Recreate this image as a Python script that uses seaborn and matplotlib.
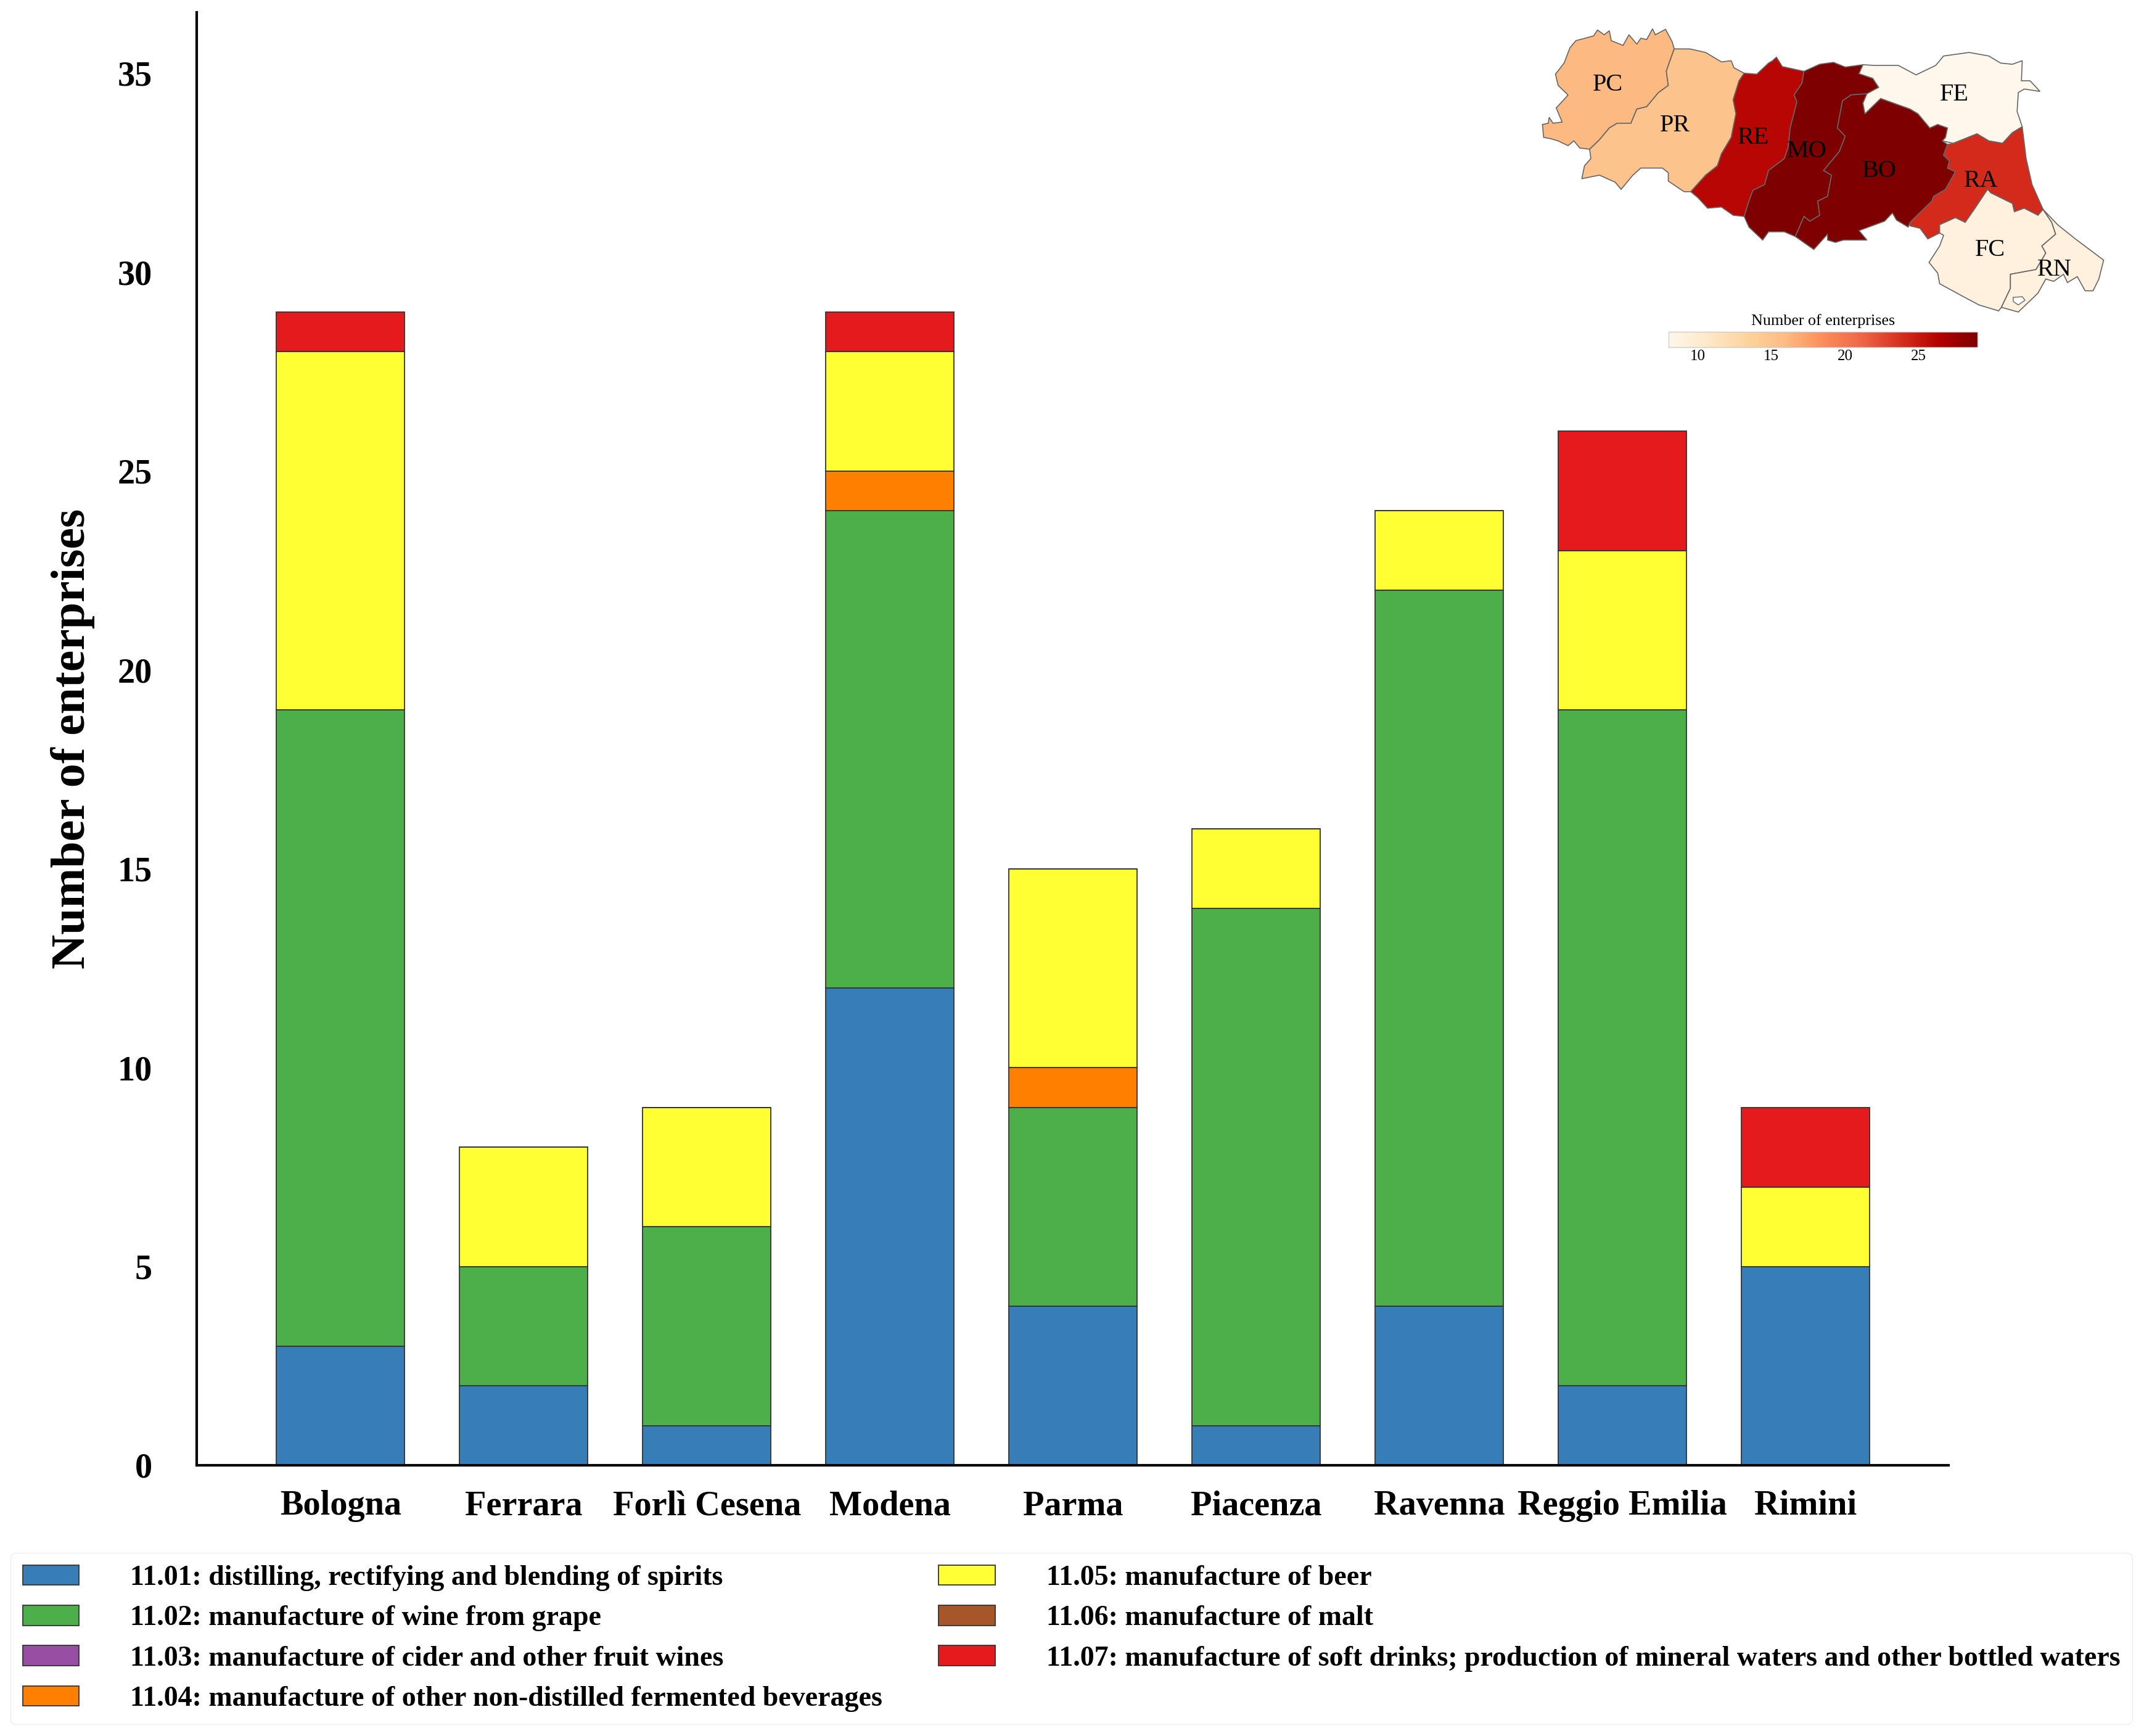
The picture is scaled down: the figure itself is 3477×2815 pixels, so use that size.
import numpy as np
import pandas as pd
import seaborn as sns
import matplotlib
matplotlib.use("Agg")
import matplotlib.pyplot as plt
from matplotlib.cm import ScalarMappable
from matplotlib.colors import Normalize

provinces = ["Bologna", "Ferrara", "Forlì Cesena", "Modena", "Parma", "Piacenza", "Ravenna", "Reggio Emilia", "Rimini"]
s1101 = [3, 2, 1, 12, 4, 1, 4, 2, 5]
s1102 = [16, 3, 5, 12, 5, 13, 18, 17, 0]
s1103 = [0, 0, 0, 0, 0, 0, 0, 0, 0]
s1104 = [0, 0, 0, 1, 1, 0, 0, 0, 0]
s1105 = [9, 3, 3, 3, 5, 2, 2, 4, 2]
s1106 = [0, 0, 0, 0, 0, 0, 0, 0, 0]
s1107 = [1, 0, 0, 1, 0, 0, 0, 3, 2]
series_labels = [
    "11.01: distilling, rectifying and blending of spirits",
    "11.02: manufacture of wine from grape",
    "11.03: manufacture of cider and other fruit wines",
    "11.04: manufacture of other non-distilled fermented beverages",
    "11.05: manufacture of beer",
    "11.06: manufacture of malt",
    "11.07: manufacture of soft drinks; production of mineral waters and other bottled waters",
]
series_colors = ["#377eb8", "#4daf4a", "#984ea3", "#ff7f00", "#ffff33", "#a65628", "#e41a1c"]

# Province outlines
PC = [(65,475),(80,470),(82,445),(92,470),(115,465),(100,405),(125,360),(130,350),(105,310),(98,262),(120,215),(135,150),(150,120),(195,100),(205,75),(222,95),(235,78),(240,120),(270,140),(285,95),(305,135),(315,110),(330,115),(345,70),(352,95),(378,72),(395,125),(400,155),(385,225),(380,250),(385,310),(360,340),(330,400),(305,410),(290,470),(255,470),(235,490),(210,540),(185,580),(160,575),(145,545),(130,565),(105,545),(85,535),(68,530)]
PR = [(400,155),(440,155),(480,170),(520,210),(545,205),(552,235),(578,258),(565,290),(550,370),(557,430),(545,530),(520,600),(510,650),(480,690),(442,760),(425,760),(385,715),(385,680),(370,660),(315,660),(295,690),(265,750),(250,720),(210,690),(165,705),(172,650),(188,620),(185,580),(210,540),(235,490),(255,470),(290,470),(305,410),(330,400),(360,340),(385,310),(380,250),(385,225)]
RE = [(578,258),(610,262),(640,215),(650,205),(660,190),(675,230),(730,250),(725,300),(705,350),(712,380),(695,490),(690,570),(680,620),(640,670),(630,730),(600,755),(590,800),(578,865),(550,860),(520,825),(485,830),(460,785),(442,760),(480,690),(510,650),(520,600),(545,530),(557,430),(550,370),(565,290)]
MO = [(730,250),(770,220),(805,212),(835,232),(880,222),(870,260),(905,280),(920,318),(890,345),(850,350),(828,375),(815,490),(835,525),(820,590),(780,670),(800,690),(790,780),(765,800),(770,860),(745,885),(730,865),(708,950),(680,930),(640,930),(625,965),(590,910),(578,865),(590,800),(600,755),(630,730),(640,670),(680,620),(690,570),(695,490),(712,380),(705,350),(725,300)]
BO = [(890,345),(880,385),(885,430),(925,365),(1000,410),(1020,430),(1050,490),(1070,475),(1095,490),(1090,530),(1082,545),(1095,560),(1085,605),(1100,630),(1095,660),(1115,675),(1090,750),(1060,780),(1055,800),(1000,890),(995,910),(965,880),(955,850),(935,885),(870,925),(890,965),(830,965),(810,975),(790,965),(790,940),(755,1005),(708,950),(730,865),(745,885),(770,860),(765,800),(790,780),(800,690),(780,670),(820,590),(835,525),(815,490),(828,375),(850,350)]
FE = [(880,222),(910,225),(970,225),(1015,265),(1065,225),(1085,185),(1150,170),(1200,185),(1230,215),(1260,220),(1285,205),(1283,290),(1305,290),(1330,335),(1290,325),(1275,340),(1272,420),(1285,485),(1260,510),(1235,555),(1200,545),(1170,515),(1110,555),(1082,545),(1090,530),(1095,490),(1070,475),(1050,490),(1020,430),(1000,410),(925,365),(885,430),(880,385),(890,345),(920,318),(905,280),(870,260)]
RA = [(1285,485),(1295,620),(1310,730),(1338,835),(1325,860),(1290,830),(1265,845),(1260,810),(1205,765),(1197,750),(1165,830),(1140,890),(1115,870),(1075,900),(1075,935),(1045,960),(1025,915),(1000,905),(1000,890),(1055,800),(1060,780),(1090,750),(1115,675),(1095,660),(1100,630),(1085,605),(1095,560),(1110,555),(1170,515),(1200,545),(1235,555),(1260,510)]
FC = [(1197,750),(1205,765),(1260,810),(1265,845),(1290,830),(1325,860),(1338,835),(1360,890),(1370,940),(1335,990),(1345,1020),(1320,1090),(1255,1110),(1255,1170),(1232,1250),(1225,1265),(1175,1240),(1130,1200),(1075,1150),(1070,1105),(1048,1060),(1075,990),(1085,945),(1075,935),(1075,900),(1115,870),(1140,890),(1165,830)]
RN = [(1338,835),(1375,900),(1420,960),(1492,1050),(1480,1130),(1465,1180),(1445,1180),(1425,1120),(1400,1145),(1390,1110),(1365,1140),(1345,1130),(1325,1190),(1275,1270),(1232,1250),(1255,1170),(1255,1110),(1320,1090),(1345,1020),(1335,990),(1370,940),(1360,890)]
SM = [(1262,1208),(1285,1205),(1292,1220),(1275,1240),(1262,1225)]
map_shapes = {"PC": PC, "PR": PR, "RE": RE, "MO": MO, "BO": BO, "FE": FE, "RA": RA, "FC": FC, "RN": RN}
map_province = {"PC": "Piacenza", "PR": "Parma", "RE": "Reggio Emilia", "MO": "Modena", "BO": "Bologna",
                "FE": "Ferrara", "RA": "Ravenna", "FC": "Forlì Cesena", "RN": "Rimini"}
map_label_xy = {"PC": (232, 308), "PR": (402, 480), "RE": (602, 533), "MO": (738, 590), "BO": (922, 674),
                "FE": (1113, 350), "RA": (1180, 716), "FC": (1204, 1008), "RN": (1367, 1092)}

W, H = 3477, 2815
sns.set_theme(style="white")
plt.rcParams["font.family"] = ["Liberation Serif", "DejaVu Serif"]
plt.rcParams["text.color"] = "black"

fig = plt.figure(figsize=(W / 100, H / 100), dpi=100, facecolor="white")
ax = fig.add_axes([319 / W, 1 - 2376 / H, (3160 - 319) / W, (2376 - 20) / H])

series = [s1101, s1102, s1103, s1104, s1105, s1106, s1107]
bottom = np.zeros(len(provinces))
for vals, lab, col in zip(series, series_labels, series_colors):
    sns.barplot(x=provinces, y=vals, bottom=bottom, color=col, saturation=1, width=0.7,
                edgecolor="#333333", linewidth=1.3, label=lab, ax=ax, order=provinces)
    bottom = bottom + np.array(vals)
totals = dict(zip(provinces, bottom))

ax.set_xlim(-0.785, 8.78)
ax.set_ylim(0, 36.53)
ax.set_yticks(range(0, 36, 5))
ax.set_xlabel("")
ax.set_ylabel("Number of enterprises", fontsize=56, fontweight="bold", labelpad=26, color="black")
ax.tick_params(axis="both", length=0, labelsize=40.5, labelcolor="black")
ax.tick_params(axis="y", pad=52)
ax.tick_params(axis="x", pad=29)
for t in ax.get_xticklabels() + ax.get_yticklabels():
    t.set_fontweight("bold")
for s in ["top", "right"]:
    ax.spines[s].set_visible(False)
for s in ["left", "bottom"]:
    ax.spines[s].set_color("black")
    ax.spines[s].set_linewidth(3)

handles, labels = ax.get_legend_handles_labels()
if ax.get_legend() is not None:
    ax.get_legend().remove()
leg = fig.legend(handles, labels, ncol=2, loc="upper left", bbox_to_anchor=(17 / W, 1 - 2518 / H),
                 bbox_transform=fig.transFigure, borderaxespad=0,
                 prop={"weight": "bold", "size": 33, "family": "Liberation Serif"},
                 handlelength=2.0, handleheight=0.72, handletextpad=1.8, columnspacing=2.0,
                 labelspacing=0.50, borderpad=0.43, frameon=True, fancybox=True,
                 edgecolor="#eeeeee", facecolor="white", framealpha=1)

# Inset map
norm = Normalize(8, 29)
cmap = plt.get_cmap("OrRd")
mx = fig.add_axes([2460 / W, 1 - 620 / H, 1000 / W, 600 / H], facecolor="none")
mx.set_xlim(0, 1568)
mx.set_ylim(1568, 0)
mx.axis("off")
for code, shape in map_shapes.items():
    xs, ys = zip(*shape)
    mx.fill(xs, ys, facecolor=cmap(norm(totals[map_province[code]])), edgecolor="#666666", linewidth=1.2)
    lx, ly = map_label_xy[code]
    mx.text(lx, ly, code, ha="center", va="center", fontsize=29, color="black")
mx.fill(*zip(*SM), facecolor="white", edgecolor="#666666", linewidth=1.0)

cax = fig.add_axes([(2460 + 385 / 1.568) / W, 1 - (21 + 1415 / 2.613) / H,
                    (1172 - 385) / 1.568 / W, (1415 - 1352) / 2.613 / H])
cb = fig.colorbar(ScalarMappable(norm=norm, cmap=cmap), cax=cax, orientation="horizontal")
cb.set_ticks([10, 15, 20, 25])
cb.ax.tick_params(length=0, labelsize=18, pad=3, labelcolor="black")
cb.outline.set_edgecolor("#cccccc")
cb.outline.set_linewidth(1)
cb.ax.set_title("Number of enterprises", fontsize=18.8, pad=8, color="black")

fig.savefig("out.png", dpi=100, facecolor="white")
